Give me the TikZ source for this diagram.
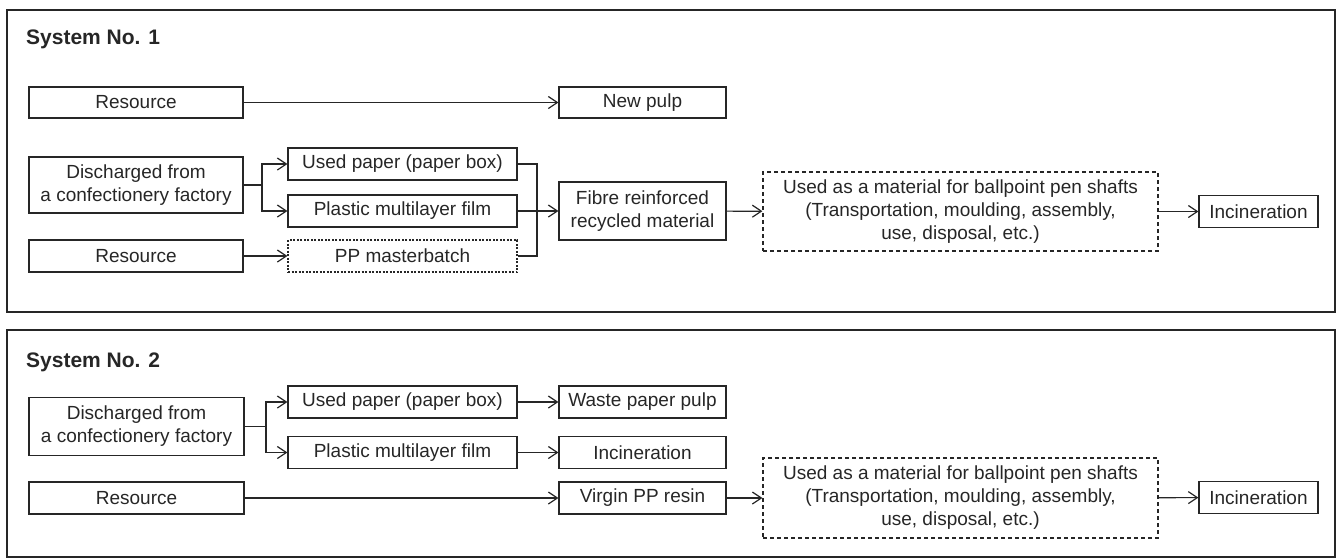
\documentclass[tikz,border=0pt]{standalone}
\usepackage{fontspec}
\setmainfont{Liberation Sans}
\usetikzlibrary{arrows.meta}
\tikzset{
  box/.style={draw=black!85, line width=1.2pt, inner sep=0pt, align=center,
    font=\fontsize{19}{23}\selectfont, text=black!85},
  finedash/.style={box, dash pattern=on 2pt off 1.5pt},
  bigdash/.style={box, dash pattern=on 4pt off 3pt},
  frame/.style={draw=black!85, line width=2pt},
  conn/.style={draw=black!85, line width=1.2pt},
  arr/.style={conn, -{Straight Barb[length=9pt,width=12pt,line width=1.2pt]}},
  title/.style={font=\fontsize{21}{25}\selectfont\bfseries, text=black!85, anchor=base west, inner sep=0pt}
}
\begin{document}
\begin{tikzpicture}[x=1pt,y=-1pt]
\useasboundingbox (0,0) rectangle (1338,558);
% frames
\draw[frame] (7,10) rectangle (1335,312);
\draw[frame] (7,330) rectangle (1335,557);

% ---------- System No. 1 ----------
\node[title] (t1) at (26,44) {System No. 1};
\node[box, minimum width=214pt, minimum height=31pt] (r1) at (136,102.5) {Resource};
\node[box, minimum width=167pt, minimum height=31pt] (np) at (642.5,102.5) {New pulp};
\node[box, minimum width=214pt, minimum height=56pt] (d1) at (136,185) {Discharged from\\a confectionery factory};
\node[box, minimum width=229pt, minimum height=32pt] (up1) at (402.5,164) {Used paper (paper box)};
\node[box, minimum width=229pt, minimum height=32pt] (pm1) at (402.5,211) {Plastic multilayer film};
\node[box, minimum width=214pt, minimum height=32pt] (r3) at (136,256) {Resource};
\node[finedash, minimum width=229pt, minimum height=32pt] (pp1) at (402.5,256) {PP masterbatch};
\node[box, minimum width=167pt, minimum height=58pt] (fb) at (642.5,211) {Fibre reinforced\\recycled material};
\node[bigdash, minimum width=395pt, minimum height=79pt] (ub1) at (960.5,211.5) {Used as a material for ballpoint pen shafts\\(Transportation, moulding, assembly,\\use, disposal, etc.)};
\node[box, minimum width=119pt, minimum height=32pt] (in1) at (1258.5,211.5) {Incineration};

\coordinate (j1) at (262,185);
\coordinate (m1) at (537,211);
\draw[arr] (r1) -- (np);
\draw[conn] (d1.east) -- (j1);
\draw[arr] (j1) |- (up1.west);
\draw[arr] (j1) |- (pm1.west);
\draw[arr] (r3) -- (pp1);
\draw[conn] (up1.east) -- (up1.east -| m1) -- (pp1.east -| m1) -- (pp1.east);
\draw[arr] (pm1) -- (fb);
\draw[arr] (fb) -- (ub1);
\draw[arr] (ub1) -- (in1);

% ---------- System No. 2 ----------
\node[title] (t2) at (26,367) {System No. 2};
\node[box, minimum width=215pt, minimum height=58pt] (d2) at (136.5,426.5) {Discharged from\\a confectionery factory};
\node[box, minimum width=229pt, minimum height=32pt] (up2) at (402.5,402) {Used paper (paper box)};
\node[box, minimum width=167pt, minimum height=32pt] (wp) at (642.5,402) {Waste paper pulp};
\node[box, minimum width=229pt, minimum height=32pt] (pm2) at (402.5,452.5) {Plastic multilayer film};
\node[box, minimum width=167pt, minimum height=32pt] (in2a) at (642.5,452.5) {Incineration};
\node[box, minimum width=215pt, minimum height=32pt] (r2) at (136.5,498) {Resource};
\node[box, minimum width=167pt, minimum height=32pt] (vp) at (642.5,498) {Virgin PP resin};
\node[bigdash, minimum width=395pt, minimum height=80pt] (ub2) at (960.5,498) {Used as a material for ballpoint pen shafts\\(Transportation, moulding, assembly,\\use, disposal, etc.)};
\node[box, minimum width=119pt, minimum height=32pt] (in2) at (1258.5,497.5) {Incineration};

\coordinate (j2) at (266,426.5);
\draw[conn] (d2.east) -- (j2);
\draw[arr] (j2) |- (up2.west);
\draw[arr] (j2) |- (pm2.west);
\draw[arr] (up2) -- (wp);
\draw[arr] (pm2) -- (in2a);
\draw[arr] (r2) -- (vp);
\draw[arr] (vp) -- (ub2);
\draw[arr] (ub2) -- (in2);
\end{tikzpicture}
\end{document}
